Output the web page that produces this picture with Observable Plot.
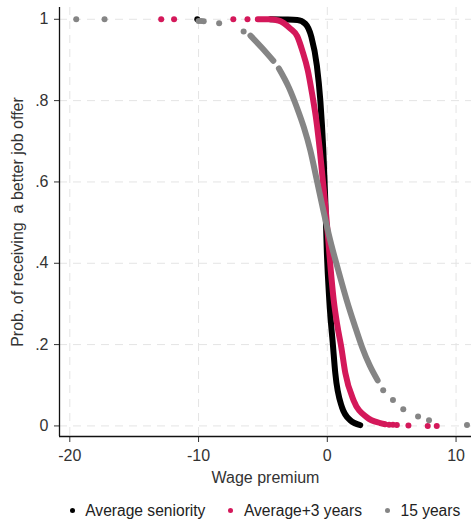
<!DOCTYPE html>
<html>
<head>
<meta charset="utf-8">
<script src="https://cdn.jsdelivr.net/npm/d3@7"></script>
<script src="https://cdn.jsdelivr.net/npm/@observablehq/plot@0.6"></script>
<style>
  html, body { margin: 0; padding: 0; background: #fff; }
  body { width: 471px; height: 525px; overflow: hidden; font-family: "Liberation Sans", Arial, sans-serif; }
  #legend { display: flex; justify-content: center; align-items: center; gap: 23px; font-size: 15.6px; color: #222;
            height: 35px; padding-top: 3px; margin-left: 59px; width: 412px; }
  #legend .item { display: flex; align-items: center; white-space: nowrap; }
  #legend .sw { width: 5px; height: 5px; border-radius: 50%; margin-right: 10.5px; }
</style>
</head>
<body>
<div id="chart"></div>
<div id="legend"></div>
<script>
// Series labels and colours
const seriesNames = ["Average seniority", "Average+3 years", "15 years"];
const seriesColors = ["#000000", "#d4185a", "#858585"];

// Axis ticks
const xTicks = [-20, -10, 0, 10];
const yTicks = [0, 0.2, 0.4, 0.6, 0.8, 1];
const yTickLabels = ["0", ".2", ".4", ".6", ".8", "1"];

// Average seniority: dense run of predictions, and isolated observations
const avgCurveX = [-4.42, -3.26, -2.33, -1.71, -1.24, -0.81, -0.54, -0.31, -0.155, -0.04, 0.155, 0.44, 0.62, 1.14, 1.78, 2.56];
const avgCurveY = [1.0, 0.9995, 0.9985, 0.989, 0.957, 0.886, 0.800, 0.678, 0.555, 0.432, 0.309, 0.198, 0.130, 0.046, 0.014, 0.002];
const avgDotsX = [-10.1];
const avgDotsY = [1.0];

// Average+3 years
const plus3CurveX = [-5.4, -4.6, -3.80, -2.87, -2.33, -1.94, -1.51, -1.16, -0.85, -0.58, -0.35, -0.12, 0.08, 0.27, 0.50, 0.78, 1.09, 1.40, 2.04, 3.08, 4.11, 4.50];
const plus3CurveY = [1.0, 1.0, 0.997, 0.977, 0.958, 0.923, 0.874, 0.813, 0.751, 0.678, 0.604, 0.530, 0.456, 0.383, 0.309, 0.247, 0.193, 0.130, 0.063, 0.021, 0.007, 0.004];
const plus3DotsX = [-12.9, -11.9, -7.3, -6.2, 4.8, 5.1, 5.4, 6.3, 7.8, 8.5];
const plus3DotsY = [1.0, 1.0, 1.0, 1.0, 0.003, 0.003, 0.002, 0.001, 0.0, 0.0];

// 15 years (the dense run has a short break near -4)
const yrs15CurveX = [-5.97, -5.08, -4.19];
const yrs15CurveY = [0.960, 0.930, 0.898];
const yrs15Curve2X = [-3.76, -2.98, -2.36, -1.82, -1.32, -0.81, -0.31, 0.23, 0.85, 1.51, 2.13, 2.71, 3.29, 3.91];
const yrs15Curve2Y = [0.879, 0.832, 0.783, 0.734, 0.678, 0.604, 0.530, 0.456, 0.383, 0.309, 0.247, 0.193, 0.149, 0.112];
const yrs15DotsX = [-19.5, -17.3, -10.0, -9.8, -9.6, -8.4, -6.5, 4.34, 5.1, 5.9, 7.05, 7.9, 10.85];
const yrs15DotsY = [1.0, 1.0, 0.996, 0.996, 0.995, 0.99, 0.97, 0.088, 0.064, 0.041, 0.023, 0.014, 0.002];

const pts = (xs, ys, s) => xs.map((x, i) => ({x, y: ys[i], s}));

const curves = [
  pts(avgCurveX, avgCurveY, 0),
  pts(plus3CurveX, plus3CurveY, 1),
  pts(yrs15CurveX, yrs15CurveY, 2),
  pts(yrs15Curve2X, yrs15Curve2Y, 2)
];
const dots = [
  pts(avgDotsX, avgDotsY, 0),
  pts(plus3DotsX, plus3DotsY, 1),
  pts(yrs15DotsX, yrs15DotsY, 2)
];

const xDomain = [-20.8, 11.2];
const yDomain = [-0.026, 1.029];

const marks = [
  Plot.gridX(xTicks, {stroke: "#e4e4e4", strokeOpacity: 1, strokeDasharray: "8,6"}),
  Plot.gridY(yTicks, {stroke: "#e4e4e4", strokeOpacity: 1, strokeDasharray: "8,6"}),
  Plot.axisX(xTicks, {tickSize: 6, tickPadding: 7, fontSize: 16, color: "#333",
    tickFormat: d => String(d),
    label: "Wage premium", labelAnchor: "center", labelArrow: "none", labelOffset: 46}),
  Plot.axisY(yTicks, {tickSize: 5, tickPadding: 6, fontSize: 16, color: "#333",
    tickFormat: (d, i) => yTickLabels[i],
    label: "Prob. of receiving  a better job offer", labelAnchor: "center", labelArrow: "none", labelOffset: 48}),
  Plot.ruleX([xDomain[0]], {stroke: "#111", strokeWidth: 1.3}),
  Plot.ruleY([yDomain[0]], {stroke: "#111", strokeWidth: 1.3})
];

// draw series in order so later ones sit on top
for (let s = 0; s < 3; s++) {
  for (const c of curves.filter(c => c[0].s === s)) {
    marks.push(Plot.line(c, {x: "x", y: "y", stroke: seriesColors[s], strokeWidth: 6,
      strokeLinecap: "round", strokeLinejoin: "round", curve: "monotone-x"}));
  }
  marks.push(Plot.dot(dots[s], {x: "x", y: "y", r: 3, fill: seriesColors[s]}));
}

const chart = Plot.plot({
  width: 471,
  height: 490,
  marginLeft: 59,
  marginRight: 0,
  marginTop: 7,
  marginBottom: 54,
  style: {fontFamily: "'Liberation Sans', Arial, sans-serif", fontSize: "16px", color: "#333", background: "#fff"},
  x: {domain: xDomain},
  y: {domain: yDomain},
  marks
});
document.getElementById("chart").appendChild(chart);

const legend = document.getElementById("legend");
seriesNames.forEach((name, i) => {
  const item = document.createElement("div");
  item.className = "item";
  const sw = document.createElement("span");
  sw.className = "sw";
  sw.style.background = seriesColors[i];
  const label = document.createElement("span");
  label.textContent = name;
  item.appendChild(sw);
  item.appendChild(label);
  legend.appendChild(item);
});
</script>
</body>
</html>
